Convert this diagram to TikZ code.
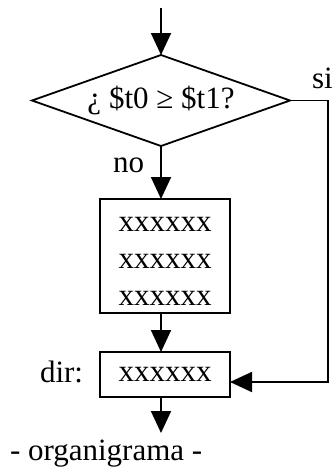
\documentclass[tikz,border=0pt]{standalone}
\usepackage{fontspec}
\setmainfont{Liberation Serif}
\usetikzlibrary{shapes.geometric,arrows.meta}
\begin{document}
\begin{tikzpicture}[x=1pt,y=-1pt,
  every node/.style={font=\fontsize{31}{37}\selectfont, inner sep=0pt, outer sep=0pt},
  arr/.style={line width=1.8pt, -{Triangle[width=20pt,length=22pt]}},
  decision/.style={draw, line width=1.8pt, diamond, aspect=2.83, minimum width=258pt, minimum height=91pt},
  boxnode/.style={draw, line width=1.8pt, rectangle, minimum width=130pt}]
\useasboundingbox (0,0) rectangle (333,469);
\coordinate (start) at (161,8);
\node[decision] (d) at (161,100.5) {¿ \$t0 ≥ \$t1?};
\node[boxnode, minimum height=114pt] (b1) at (165,256) {};
\node[align=center] (t1) at (165,261) {xxxxxx\\xxxxxx\\xxxxxx};
\node[boxnode, minimum height=45pt] (b2) at (165,374.5) {xxxxxx};
\coordinate (end) at (161,433);
\coordinate (r1) at (328,100.5);
\coordinate (r2) at (328,382);
\coordinate (r3) at (b2.east |- r2);
\node[anchor=base west] (si) at (312,88) {si};
\node[anchor=base west] (no) at (113,172) {no};
\node[anchor=base west] (dir) at (40,382) {dir:};
\node[anchor=base west] (org) at (10,460) {- organigrama -};
\draw[arr] (start) -- (d.north);
\draw[arr] (d.south) -- (d.south |- b1.north);
\draw[arr] (b1.south -| d.south) -- (d.south |- b2.north);
\draw[arr] (b2.south -| d.south) -- (end);
\draw[arr] (d.east) -- (r1) -- (r2) -- (r3);
\end{tikzpicture}
\end{document}
